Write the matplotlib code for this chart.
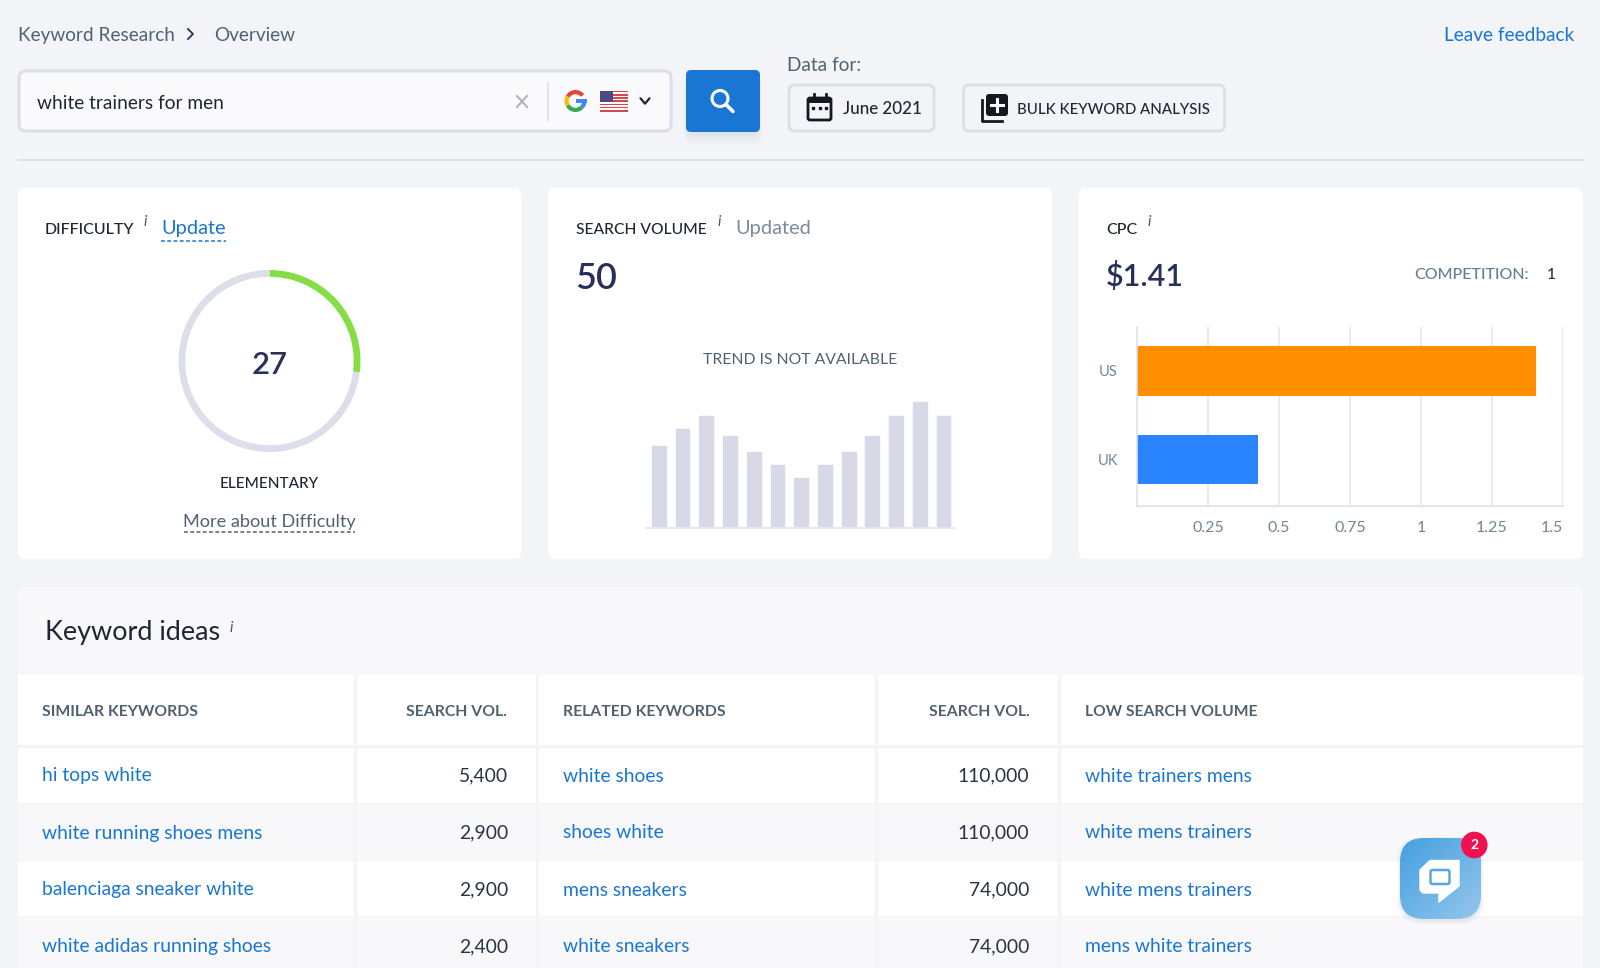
import numpy as np
import matplotlib
matplotlib.use("Agg")
import matplotlib.pyplot as plt
from matplotlib.patches import FancyBboxPatch, Circle, Wedge, Polygon, Rectangle

# data
difficulty_score = 27
difficulty_rest = 100 - difficulty_score
cpc_countries = ["UK", "US"]
cpc_values = [0.425, 1.405]
cpc_colors = ["#2a84ff", "#ff8f00"]
cpc_ticks = [0.25, 0.5, 0.75, 1, 1.25, 1.5]
cpc_tick_labels = ["0.25", "0.5", "0.75", "1", "1.25", "1.5"]
trend_months = list(range(13))
trend_values = [82, 99, 112, 92, 76, 63, 50, 63, 76, 92, 112, 126, 112]

similar_keywords = ["hi tops white", "white running shoes mens", "balenciaga sneaker white", "white adidas running shoes"]
similar_volume = ["5,400", "2,900", "2,900", "2,400"]
related_keywords = ["white shoes", "shoes white", "mens sneakers", "white sneakers"]
related_volume = ["110,000", "110,000", "74,000", "74,000"]
low_keywords = ["white trainers mens", "white mens trainers", "white mens trainers", "mens white trainers"]

W, H = 1600, 968
BG = "#f2f4f8"
BLUE = "#1976d2"
NAVY = "#28305a"
SLATE = "#50626f"
LINE = "#dcdee9"
ALT = "#f8f8fb"

plt.rcParams["font.family"] = ["Lato", "DejaVu Sans"]

fig = plt.figure(figsize=(16, 9.68), dpi=100, facecolor=BG)

# the page is drawn on one big axes, 1 unit = 1 pixel, y going down
page = fig.add_axes([0, 0, 1, 1])
page.set_xlim(0, W)
page.set_ylim(H, 0)
page.axis("off")


def box(x0, y0, x1, y1, r=0, fc="white", ec="none", lw=0, z=1, alpha=None):
    p = FancyBboxPatch((x0 + r, y0 + r), x1 - x0 - 2 * r, y1 - y0 - 2 * r,
                       boxstyle="round,pad=%g,rounding_size=%g" % (r, r),
                       fc=fc, ec=ec, lw=lw, zorder=z, alpha=alpha)
    page.add_patch(p)
    return p


def txt(x, y, s, px=20, color="#3a4a56", ha="left", weight="normal", style="normal", z=5):
    # lato sits a bit high when centered, so push it down
    return page.text(x, y + 1.5, s, fontsize=px * 0.72, color=color, ha=ha, va="center",
                     fontweight=weight, fontstyle=style, zorder=z)


def info(x, y):
    txt(x, y, "i", 15, "#3a5a6e", style="italic", ha="center")


def dashed(x0, x1, y, color):
    page.plot([x0, x1], [y, y], color=color, lw=1.1, ls=(0, (2.5, 1.6)), zorder=5)


def chevron(x, y, s, color, lw=1.6):
    page.plot([x - s, x, x + s], [y - s * 0.6, y + s * 0.6, y - s * 0.6], color=color, lw=lw,
              solid_capstyle="round", zorder=6)


# breadcrumbs
txt(18, 34, "Keyword Research", 19, SLATE)
page.plot([188, 193, 188], [29, 34, 39], color=NAVY, lw=1.3, zorder=5)
txt(214, 34, "Overview", 19, SLATE)
txt(1574, 34, "Leave feedback", 19, BLUE, ha="right")

# search box
box(19, 71, 671, 131, 7, fc="#fafafc", ec=LINE, lw=2.2)
txt(37, 102, "white trainers for men", 19.2, "#1d2733")
page.plot([517, 527], [96, 107], color="#b0b2c4", lw=1.5, zorder=5)
page.plot([517, 527], [107, 96], color="#b0b2c4", lw=1.5, zorder=5)
page.plot([547.5, 547.5], [83, 120], color=LINE, lw=1.2, zorder=5)

# google G
gx, gy = 575.5, 101
for a, b, c in [(-150, -38, "#ea4335"), (150, 210, "#fbbc05"), (45, 150, "#34a853"), (0, 45, "#4285f4")]:
    page.add_patch(Wedge((gx, gy), 11, a, b, width=4.2, fc=c, ec="none", zorder=5))
page.add_patch(Rectangle((gx, gy - 2), 11, 4, fc="#4285f4", ec="none", zorder=5))

# flag
for i in range(13):
    c = "#d8464f" if i % 2 == 0 else "white"
    page.add_patch(Rectangle((599.5, 90.7 + i * 21 / 13), 28.5, 21 / 13, fc=c, ec="none", zorder=5))
page.add_patch(Rectangle((599.5, 90.7), 13.5, 11.3, fc="#4a4c82", ec="none", zorder=6))
chevron(645, 101, 4.5, "#1d2733")

# search button
for i in range(5):
    box(688 - i, 78, 758 + i, 136 + i * 2, 6, fc="#8090b0", z=1, alpha=0.025)
box(686, 70, 760, 132, 5, fc=BLUE, z=2)
page.add_patch(Circle((720, 98.5), 8, fc="none", ec="white", lw=2.2, zorder=5))
page.plot([726, 733], [104.5, 111.5], color="white", lw=2.6, solid_capstyle="round", zorder=5)

# data for / date button
txt(787, 64, "Data for:", 19, SLATE)
box(789, 85, 934, 131, 6, fc=BG, ec=LINE, lw=2)
box(808, 98, 831, 120, 2, fc="none", ec="#14181f", lw=2, z=5)
page.add_patch(Rectangle((808, 98), 23, 5, fc="#14181f", ec="none", zorder=5))
page.plot([813.5, 813.5], [94, 99], color="#14181f", lw=2, zorder=5)
page.plot([825.5, 825.5], [94, 99], color="#14181f", lw=2, zorder=5)
page.plot([813, 819.5, 826], [108, 108, 108], ls="none", marker="s", ms=2, color="#14181f", zorder=5)
txt(843, 108, "June 2021", 17, "#1d2733", weight="medium")

# bulk button
box(963.5, 85, 1224.5, 131, 6, fc=BG, ec=LINE, lw=2)
page.plot([982, 982, 1002], [100, 121, 121], color="#14181f", lw=2, zorder=5)
box(986, 94, 1008, 116, 3, fc="#14181f", z=6)
page.plot([997, 997], [99, 111], color="white", lw=2.2, zorder=7)
page.plot([991, 1003], [105, 105], color="white", lw=2.2, zorder=7)
txt(1017, 108, "BULK KEYWORD ANALYSIS", 15, "#1d2733", weight="medium")

page.plot([18, 1583], [160, 160], color=LINE, lw=1.4, zorder=1)

# the three cards
for x0, x1 in [(18, 521), (548, 1052), (1079, 1583)]:
    box(x0, 188, x1, 559, 7, fc="white")

# difficulty card
txt(45, 228, "DIFFICULTY", 16, "#1d2733", weight="medium")
info(145, 221)
txt(161, 227, "Update", 20, BLUE)
dashed(161, 226, 241, BLUE)
txt(269.5, 363, str(difficulty_score), 31, NAVY, ha="center", weight="semibold")
txt(269.5, 482, "ELEMENTARY", 15.2, "#1d2733", ha="center", weight="medium")
txt(269.5, 520.5, "More about Difficulty", 18.1, SLATE, ha="center")
dashed(184, 355, 531.5, SLATE)

ring = fig.add_axes([(269.5 - 91) / W, 1 - (361 + 91) / H, 182 / W, 182 / H])
ring.pie([difficulty_score, difficulty_rest], colors=["#86de46", "#dcdee9"], startangle=90, counterclock=False,
         radius=1.0, wedgeprops=dict(width=0.075, edgecolor="none"))
ring.set_xlim(-1, 1)
ring.set_ylim(-1, 1)

# search volume card
txt(575.5, 228, "SEARCH VOLUME", 15.6, "#1d2733", weight="medium")
info(719, 221)
txt(735, 227, "Updated", 20, "#7d8b97")
txt(575.5, 277, "50", 36, NAVY, weight="semibold")
txt(800, 358, "TREND IS NOT AVAILABLE", 15.8, SLATE, ha="center")

trend = fig.add_axes([646 / W, 1 - 527.7 / H, 308 / W, 130 / H])
trend.bar(trend_months, trend_values, width=0.58, color="#d7d9e6", edgecolor="#d7d9e6", linewidth=1, joinstyle="round")
trend.set_xlim(-0.54, 12.44)
trend.set_ylim(0, 130)
trend.patch.set_alpha(0)
for s in ["top", "left", "right"]:
    trend.spines[s].set_visible(False)
trend.spines["bottom"].set_color("#e6e7f0")
trend.spines["bottom"].set_linewidth(1.5)
trend.set_xticks([])
trend.set_yticks([])

# cpc card
txt(1106, 228, "CPC", 16, "#1d2733", weight="medium")
info(1149, 221)
txt(1106, 274, "$1.41", 30.5, NAVY, weight="semibold")
txt(1414, 273.5, "COMPETITION:", 16, "#64808f", weight="medium")
txt(1547, 273.5, "1", 15.5, NAVY, weight="medium")

cpc = fig.add_axes([1137.3 / W, 1 - 505.7 / H, 425.5 / W, 179 / H])
cpc.barh(cpc_countries, cpc_values, height=0.56, color=cpc_colors)
cpc.set_xlim(0, 1.5)
cpc.set_ylim(-0.52, 1.495)
cpc.set_xticks(cpc_ticks)
cpc.set_xticklabels(cpc_tick_labels)
cpc.tick_params(axis="x", length=0, pad=11, labelsize=11.5, labelcolor="#6f8696")
cpc.tick_params(axis="y", length=0, pad=14, labelsize=10.5, labelcolor="#6f8696")
cpc.xaxis.get_majorticklabels()[-1].set_horizontalalignment("right")
cpc.grid(axis="x", color="#e6e7ec", lw=1.2)
cpc.set_axisbelow(True)
cpc.patch.set_alpha(0)
for s in ["top", "right"]:
    cpc.spines[s].set_visible(False)
for s in ["left", "bottom"]:
    cpc.spines[s].set_color("#dde1f0")
    cpc.spines[s].set_linewidth(1.2)

# keyword ideas table
box(18, 587, 1583, 700, 6, fc=ALT)
txt(45, 631, "Keyword ideas", 27, "#1d2733")
info(231, 626)

row_tops = [675, 748, 805, 861, 917]
row_bottoms = [745, 803, 860, 916, 968]
row_fill = ["white", "white", ALT, "white", ALT]
for y0, y1, c in zip(row_tops, row_bottoms, row_fill):
    page.add_patch(Rectangle((18, y0), 1565, y1 - y0, fc=c, ec="none", zorder=2))
for vx in [355, 537, 876.5, 1059]:
    page.add_patch(Rectangle((vx - 1.5, 675), 3, H - 675, fc=BG, ec="none", zorder=3))

head_y = 711
txt(42, head_y, "SIMILAR KEYWORDS", 15.8, SLATE, weight="bold")
txt(507, head_y, "SEARCH VOL.", 15.7, SLATE, ha="right", weight="bold")
txt(563, head_y, "RELATED KEYWORDS", 15.7, SLATE, weight="bold")
txt(1029.5, head_y, "SEARCH VOL.", 15.7, SLATE, ha="right", weight="bold")
txt(1085, head_y, "LOW SEARCH VOLUME", 15.6, SLATE, weight="bold")

row_y = [774.5, 831.5, 888.5, 945]
for i, y in enumerate(row_y):
    txt(42, y, similar_keywords[i], 19.3, BLUE)
    txt(508, y, similar_volume[i], 19.3, "#2a3440", ha="right")
    txt(563, y, related_keywords[i], 19.3, BLUE)
    txt(1029.5, y, related_volume[i], 19.3, "#2a3440", ha="right")
    txt(1085, y, low_keywords[i], 19.3, BLUE)

# chat button with a gradient fill
for i in range(4):
    box(1400 - i, 838 - i + 2, 1481 + i, 919 + i + 2, 24, fc="#607090", z=8, alpha=0.03)
chat_box = box(1400, 838, 1481, 919, 24, fc="none", z=9)
gx_, gy_ = np.meshgrid(np.linspace(0, 1, 60), np.linspace(0, 1, 60))
chat_grad = (gx_ + gy_) / 2
cmap = matplotlib.colors.LinearSegmentedColormap.from_list("chat", ["#45a0df", "#93c6ec"])
im = page.imshow(chat_grad, extent=(1400, 1481, 919, 838), cmap=cmap, aspect="auto", zorder=9)
im.set_clip_path(chat_box)
page.set_xlim(0, W)
page.set_ylim(H, 0)

page.add_patch(Polygon([(1430, 860.5), (1459, 860.5), (1459, 886), (1439, 902), (1439, 893),
                        (1423, 893), (1420, 890), (1420, 870)], closed=True, fc="white", ec="white",
                       lw=1, joinstyle="round", zorder=10))
box(1430.5, 870, 1449.5, 884, 2, fc="white", ec="#5ba6e0", lw=1.8, z=11)
page.add_patch(Circle((1474.3, 845), 13.3, fc="#ef1150", ec="none", zorder=12))
txt(1474.3, 843.5, "2", 14, "white", ha="center", weight="bold", z=13)

fig.savefig("out.png", dpi=100, facecolor=BG)
